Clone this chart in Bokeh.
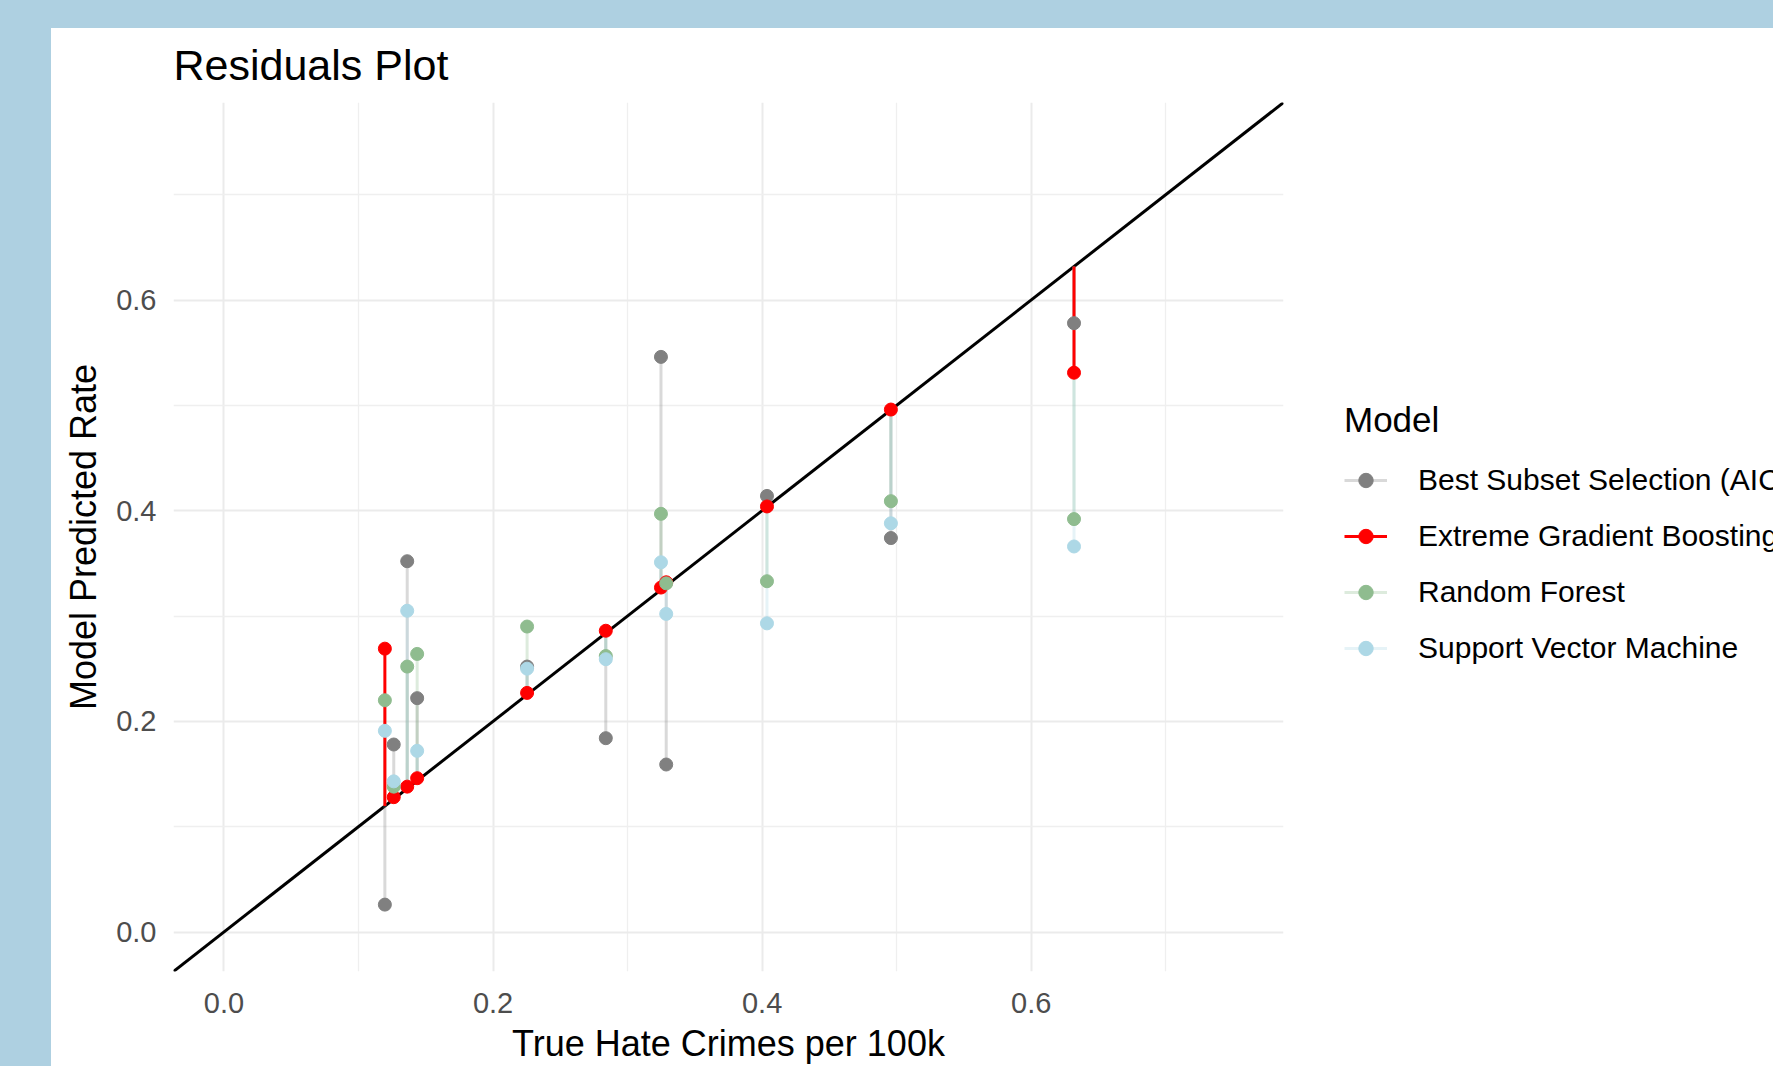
from bokeh.plotting import figure
from bokeh.models import (ColumnDataSource, Slope, FixedTicker, Legend, LegendItem,
                          PrintfTickFormatter, Range1d, Spacer)
from bokeh.layouts import row, column
from bokeh.embed import file_html
from bokeh.resources import INLINE

# ---------------- data ----------------
true_rate = [0.1196, 0.1262, 0.1362, 0.1436, 0.2253, 0.2838, 0.3248, 0.3287, 0.4036, 0.4957, 0.6318]
pred_bss  = [0.026, 0.178, 0.352, 0.222, 0.252, 0.184, 0.546, 0.159, 0.414, 0.374, 0.578]
pred_xgb  = [0.269, 0.128, 0.138, 0.146, 0.227, 0.286, 0.327, 0.332, 0.404, 0.496, 0.531]
pred_rf   = [0.220, 0.138, 0.252, 0.264, 0.290, 0.262, 0.397, 0.331, 0.333, 0.409, 0.392]
pred_svm  = [0.191, 0.143, 0.305, 0.172, 0.250, 0.259, 0.351, 0.302, 0.293, 0.388, 0.366]

models = ["Best Subset Selection (AIC)", "Extreme Gradient Boosting", "Random Forest", "Support Vector Machine"]
preds = [pred_bss, pred_xgb, pred_rf, pred_svm]
colors = ["#808080", "#FF0000", "#8FBC8F", "#ADD8E6"]
line_alpha = [0.3, 1.0, 0.3, 0.3]
draw_order = [0, 2, 3, 1]   # XGB segments on top

major_ticks = [0.0, 0.2, 0.4, 0.6]
minor_ticks = [0.1, 0.3, 0.5, 0.7]
axis_lo, axis_hi = 0.0, 0.75

FONT = "Liberation Sans"
LIGHT_BLUE = "#AED0E1"

pad = 0.05 * (axis_hi - axis_lo)
p = figure(width=1252, height=1038, output_backend="svg", toolbar_location=None,
           x_range=(axis_lo - pad, axis_hi + pad), y_range=(axis_lo - pad, axis_hi + pad),
           min_border_left=122, min_border_right=20, min_border_top=74, min_border_bottom=95,
           title="Residuals Plot")
p.background_fill_color = "white"
p.border_fill_color = "white"
p.outline_line_color = None

p.title.text_font = FONT
p.title.text_font_size = "43px"
p.title.text_font_style = "normal"
p.title.text_color = "black"
p.title.align = "left"
p.title.vertical_align = "top"
p.title.standoff = 24

for ax in (p.xaxis[0], p.yaxis[0]):
    ax.ticker = FixedTicker(ticks=major_ticks, minor_ticks=minor_ticks)
    ax.formatter = PrintfTickFormatter(format="%.1f")
    ax.axis_line_color = None
    ax.major_tick_line_color = None
    ax.minor_tick_line_color = None
    ax.major_label_text_font = FONT
    ax.major_label_text_font_size = "29px"
    ax.major_label_text_color = "#4D4D4D"
    ax.axis_label_text_font = FONT
    ax.axis_label_text_font_size = "36px"
    ax.axis_label_text_font_style = "normal"
    ax.axis_label_text_color = "black"

p.xaxis[0].axis_label = "True Hate Crimes per 100k"
p.yaxis[0].axis_label = "Model Predicted Rate"
p.xaxis[0].major_label_standoff = 15
p.xaxis[0].axis_label_standoff = 7
p.yaxis[0].major_label_standoff = 11
p.yaxis[0].axis_label_standoff = 9

for g in (p.xgrid[0], p.ygrid[0]):
    g.grid_line_color = "#EBEBEB"
    g.grid_line_width = 2
    g.minor_grid_line_color = "#EFEFEF"
    g.minor_grid_line_width = 1.3

# identity line
diag = Slope(gradient=1, y_intercept=0, line_color="black", line_width=3, level="underlay")
p.add_layout(diag)

sources = [ColumnDataSource(dict(x=true_rate, pred=pr)) for pr in preds]
for i in draw_order:
    p.segment(x0="x", y0="x", x1="x", y1="pred", source=sources[i],
              line_color=colors[i], line_alpha=line_alpha[i], line_width=3)
for i in range(len(models)):
    p.scatter(x="x", y="pred", source=sources[i], size=13,
              fill_color=colors[i], line_color=colors[i])

# ---------------- legend panel (to the right of the plot) ----------------
# same data, but this panel's ranges keep the marks out of view: only the legend shows
p2 = figure(width=470, height=1038, output_backend="svg", toolbar_location=None,
            x_range=Range1d(10, 11), y_range=Range1d(10, 11),
            x_axis_location=None, y_axis_location=None,
            min_border_left=0, min_border_right=0, min_border_top=0, min_border_bottom=0)
p2.xgrid.grid_line_color = None
p2.ygrid.grid_line_color = None
p2.outline_line_color = None
p2.background_fill_color = "white"
p2.border_fill_color = "white"

items = []
for i, m in enumerate(models):
    sr = p2.segment(x0="x", y0="x", x1="x", y1="pred", source=sources[i],
                    line_color=colors[i], line_alpha=line_alpha[i], line_width=3)
    pt = p2.scatter(x="x", y="pred", source=sources[i], size=13,
                    fill_color=colors[i], line_color=colors[i])
    items.append(LegendItem(label=m, renderers=[sr, pt]))

legend = Legend(items=items, location=(41, 305), title="Model",
                title_text_font=FONT, title_text_font_size="35px", title_text_font_style="normal",
                title_text_color="black", title_standoff=22,
                label_text_font=FONT, label_text_font_size="30px", label_text_color="black",
                glyph_width=43, glyph_height=36, label_height=36, spacing=20,
                label_standoff=31, padding=0, margin=0,
                border_line_color=None, background_fill_alpha=0)
p2.add_layout(legend)

top_band = Spacer(width=1773, height=28, styles={"background-color": LIGHT_BLUE})
left_band = Spacer(width=51, height=1038, styles={"background-color": LIGHT_BLUE})
layout = column(top_band, row(left_band, p, p2))

open("out.html", "w").write(file_html(layout, INLINE))
